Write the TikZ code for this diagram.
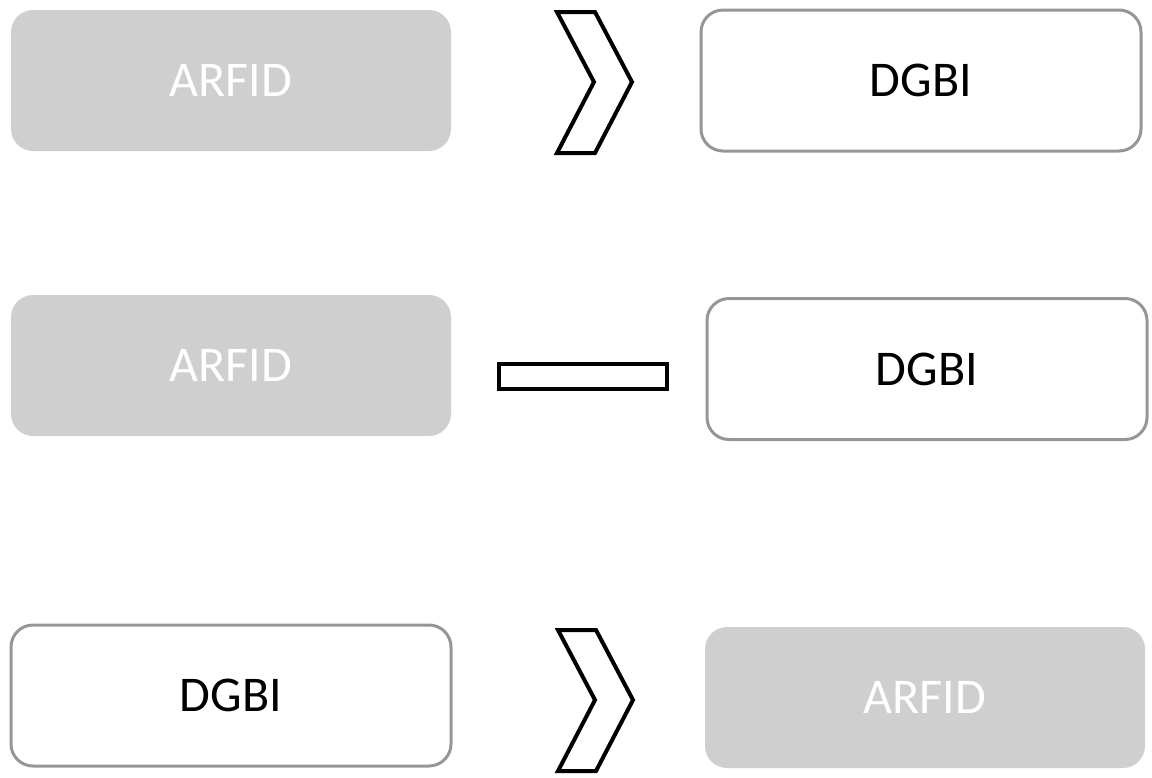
\documentclass[tikz,border=0pt]{standalone}
\usepackage{fontspec}
\setmainfont{Carlito}
\usepackage{xcolor}
\usepackage{tikz}
\usetikzlibrary{positioning}

\definecolor{boxgray}{RGB}{207,207,207}
\definecolor{edgegray}{RGB}{150,150,150}

\begin{document}
\begin{tikzpicture}[x=1pt, y=-1pt,
    box/.style={rounded corners=22pt, minimum width=440pt, minimum height=141pt,
      font=\fontsize{50}{60}\selectfont},
    shaded/.style={box, fill=boxgray, text=white},
    hollow/.style={box, draw=edgegray, line width=3pt, fill=white, text=black},
    chevron/.style={draw=black, line width=4pt, fill=white, line join=miter}]
  \useasboundingbox (0,0) rectangle (1152,777);

  % first row
  \node[shaded] (arfidA) at (231,80.5) {ARFID};
  \node[hollow] (dgbiA) at (921,80.5) {DGBI};

  % second row
  \node[shaded] (arfidB) at (231,365.5) {ARFID};
  \node[hollow] (dgbiB) at (927,369) {DGBI};

  % third row
  \node[hollow] (dgbiC) at (231,695.5) {DGBI};
  \node[shaded] (arfidC) at (925,697.5) {ARFID};

  % greater-than and equal signs
  \foreach \dx/\dy in {0/0, 1/618} {
    \draw[chevron, shift={(\dx,\dy)}] (557,12) -- (595,12) -- (632,82) -- (595,153)
      -- (557,153) -- (594,82) -- cycle;
  }
  \draw[chevron, line width=3.5pt] (499,364) rectangle (667,389);
\end{tikzpicture}
\end{document}
